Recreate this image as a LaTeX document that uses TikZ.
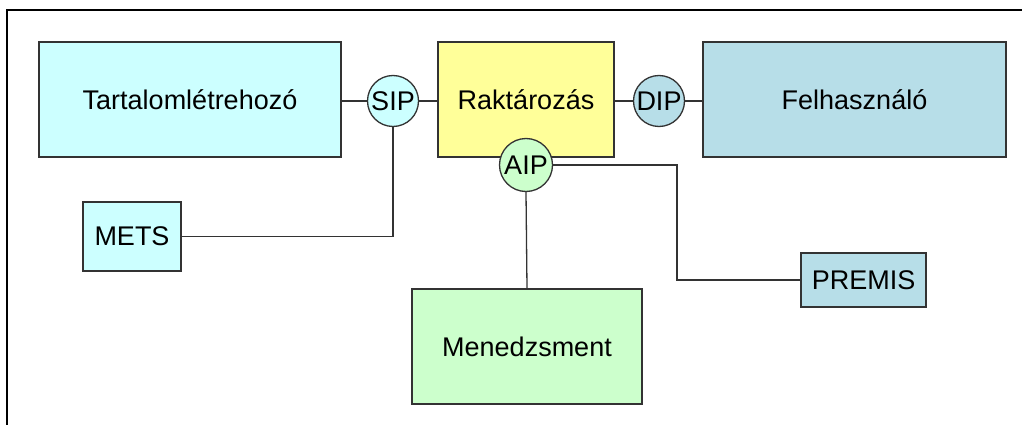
\documentclass[tikz,border=0pt]{standalone}
\usepackage{fontspec}
\setmainfont{Liberation Sans}
\definecolor{cyanbox}{HTML}{CCFFFF}
\definecolor{yellowbox}{HTML}{FFFF99}
\definecolor{bluebox}{HTML}{B7DEE8}
\definecolor{greenbox}{HTML}{CCFFCC}
\definecolor{edge}{HTML}{333333}
\tikzset{
  box/.style={draw=edge, line width=1.4pt, rectangle, inner sep=0pt, font=\fontsize{27}{31}\selectfont},
  pkg/.style={draw=edge, line width=1.3pt, circle, inner sep=0pt, minimum size=51pt, font=\fontsize{27}{31}\selectfont},
  link/.style={draw=edge, line width=1.3pt}
}
\begin{document}
\begin{tikzpicture}[x=1pt,y=-1pt]
\useasboundingbox (0,0) rectangle (1022,425);
\fill[white] (0,0) rectangle (1022,425);
\draw[line width=2.4pt, black] (7,425) -- (7,10) -- (1022,10);

\node[box, fill=cyanbox, minimum width=302pt, minimum height=115pt] (tart) at (190,99.5) {Tartalomlétrehozó};
\node[box, fill=yellowbox, minimum width=176pt, minimum height=115pt] (rakt) at (526,99.5) {Raktározás};
\node[box, fill=bluebox, minimum width=303pt, minimum height=115pt] (felh) at (854.5,99.5) {Felhasználó};
\node[box, fill=cyanbox, minimum width=98pt, minimum height=69pt] (mets) at (132,236.5) {METS};
\node[box, fill=bluebox, minimum width=125pt, minimum height=54pt] (premis) at (863.5,280) {PREMIS};
\node[box, fill=greenbox, minimum width=230pt, minimum height=115pt] (mened) at (527,346.5) {Menedzsment};

\node[pkg, fill=cyanbox] (sip) at (393,101) {SIP};
\node[pkg, fill=bluebox] (dip) at (659,101) {DIP};
\node[pkg, fill=greenbox, minimum size=53pt] (aip) at (526,165) {AIP};

\coordinate (turn) at (677,165);

\draw[link] (tart.east |- sip.west) -- (sip.west);
\draw[link] (sip.east) -- (rakt.west |- sip.east);
\draw[link] (rakt.east |- dip.west) -- (dip.west);
\draw[link] (dip.east) -- (felh.west |- dip.east);
\draw[link] (sip.south) |- (mets.east);
\draw[link] (aip.east) -- (turn) |- (premis.west);
\draw[link] (aip.south) -- (mened.north);
\end{tikzpicture}
\end{document}
